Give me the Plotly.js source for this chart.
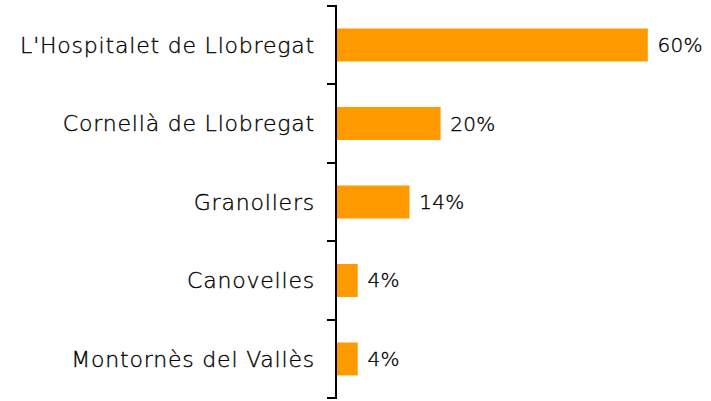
<!DOCTYPE html>
<html><head><meta charset="utf-8">
<script src="https://cdn.plot.ly/plotly-3.0.1.min.js"></script>
<style>html,body{margin:0;padding:0;background:#fff}
.ytick text{letter-spacing:0.8px;stroke:#000;stroke-width:0.35px}
text.bartext{letter-spacing:0.3px;stroke:#000;stroke-width:0.35px}
</style>
</head><body>
<div id="chart" style="width:711px;height:401px"></div>
<script>
const categories = ["L'Hospitalet de Llobregat", "Cornellà de Llobregat", "Granollers", "Canovelles", "Montornès del Vallès"];
const values = [60, 20, 14, 4, 4];
const labels = ["60%", "20%", "14%", "4%", "4%"];

const font = "Century Gothic, 'DejaVu Sans', sans-serif";
const yRange = [categories.length - 0.49, -0.51];
const boundaries = categories.map((_, i) => i - 0.5).concat([categories.length - 0.5]);

Plotly.newPlot('chart', [{
  type: 'bar', orientation: 'h',
  x: values, y: categories,
  text: labels, texttemplate: '\u00a0%{text}', textposition: 'outside', cliponaxis: false,
  textfont: {family: font, size: 20, color: '#000', weight: 200},
  marker: {color: '#FF9900'},
  hoverinfo: 'none'
}, {
  type: 'scatter', mode: 'markers', x: [null], y: [null], yaxis: 'y2',
  hoverinfo: 'none', showlegend: false
}], {
  width: 711, height: 401,
  margin: {l: 337, r: 0, t: 5, b: 2},
  bargap: 0.58,
  showlegend: false,
  paper_bgcolor: '#fff', plot_bgcolor: '#fff',
  xaxis: {range: [0, 72.2], visible: false, fixedrange: true},
  yaxis: {
    type: 'category', range: yRange,
    showline: false, ticks: '', showgrid: false, zeroline: false,
    ticklabelstandoff: 21,
    tickfont: {family: font, size: 22, color: '#000', weight: 200}
  },
  yaxis2: {
    type: 'linear', overlaying: 'y', side: 'left', range: yRange,
    showline: true, linecolor: '#000', linewidth: 2,
    tickmode: 'array', tickvals: boundaries, showticklabels: false,
    ticks: 'outside', ticklen: 8, tickwidth: 2, tickcolor: '#000',
    showgrid: false, zeroline: false
  }
}, {staticPlot: true});
</script>
</body></html>
